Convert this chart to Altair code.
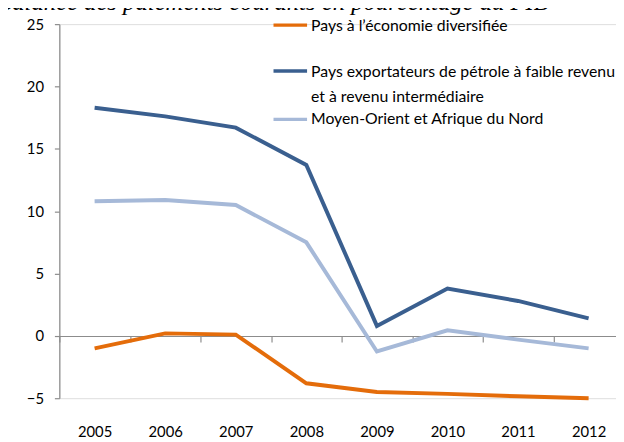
import altair as alt
import pandas as pd

years = ["2005", "2006", "2007", "2008", "2009", "2010", "2011", "2012"]
s_div = "Pays à l’économie diversifiée"
s_oil = "Pays exportateurs de pétrole à faible revenu et à revenu intermédiaire"
s_mena = "Moyen-Orient et Afrique du Nord"
diversified = [-1.0, 0.2, 0.1, -3.8, -4.5, -4.65, -4.85, -5.0]
oil_exporters = [18.3, 17.6, 16.7, 13.7, 0.8, 3.8, 2.8, 1.4]
mena = [10.8, 10.9, 10.5, 7.5, -1.25, 0.45, -0.3, -1.0]
title_text = "Balance des paiements courants en pourcentage du PIB"

colors = {s_div: "#E46C0A", s_oil: "#3A5F8F", s_mena: "#A6B9D8"}

rows = []
for name, vals in [(s_mena, mena), (s_oil, oil_exporters), (s_div, diversified)]:
    for y, v in zip(years, vals):
        rows.append({"year": y, "value": v, "series": name})
df = pd.DataFrame(rows)

FONT = "Lato"
AXIS_COLOR = "#8C8C8C"

x_enc = alt.X(
    "year:N",
    sort=years,
    scale=alt.Scale(type="band", range=[0, 572], paddingInner=0, paddingOuter=0),
    axis=alt.Axis(
        title=None, orient="bottom", offset=-63, tickBand="extent",
        tickSize=6, tickColor=AXIS_COLOR, domainColor=AXIS_COLOR,
        domainWidth=1.2, tickWidth=1.2,
        labelPadding=84, labelFontSize=15, labelFont=FONT, labelColor="#000000",
        labelAngle=0,
    ),
)
y_enc = alt.Y(
    "value:Q",
    scale=alt.Scale(domain=[-5, 25], nice=False, zero=False),
    axis=alt.Axis(
        title=None, values=[-5, 0, 5, 10, 15, 20, 25], grid=False,
        tickSize=5, tickColor=AXIS_COLOR, domainColor=AXIS_COLOR,
        domainWidth=1.2, tickWidth=1.2,
        labelPadding=11, labelFontSize=15, labelFont=FONT, labelColor="#000000",
    ),
)

lines = alt.Chart(df).mark_line(strokeWidth=4, strokeJoin="miter").encode(
    x=x_enc,
    y=y_enc,
    color=alt.Color("series:N", scale=alt.Scale(domain=list(colors.keys()), range=list(colors.values())), legend=None),
    detail="series:N",
    order=alt.Order("year:N"),
)

one = pd.DataFrame({"a": [0]})

def legend_line(color, y):
    return alt.Chart(one).mark_rule(strokeWidth=3.5, color=color).encode(
        x=alt.value(217), x2=alt.value(251), y=alt.value(y)
    )

def legend_text(txt, y):
    return alt.Chart(one).mark_text(
        align="left", baseline="middle", fontSize=16, font=FONT, color="#000000"
    ).encode(x=alt.value(255), y=alt.value(y), text=alt.value(txt))

legend = [
    legend_line(colors[s_div], 1), legend_text(s_div, 1.5),
    legend_line(colors[s_oil], 47.5), legend_text("Pays exportateurs de pétrole à faible revenu", 48.5),
    legend_text("et à revenu intermédiaire", 73.5),
    legend_line(colors[s_mena], 96.5), legend_text(s_mena, 96.5),
]

title = alt.Chart(one).mark_text(
    align="left", baseline="alphabetic", fontSize=25, font="Liberation Serif",
    fontStyle="italic", color="#000000"
).encode(x=alt.value(-63), y=alt.value(-14), text=alt.value(title_text))

chart = alt.layer(lines, title, *legend).properties(
    width=564, height=379,
    padding={"left": 52, "top": 13.5, "right": 0, "bottom": 41},
    autosize=alt.AutoSizeParams(type="none"),
).configure_view(stroke=None).configure(background="white")

chart.save("out.html", embed_options={"renderer": "svg", "actions": False})
